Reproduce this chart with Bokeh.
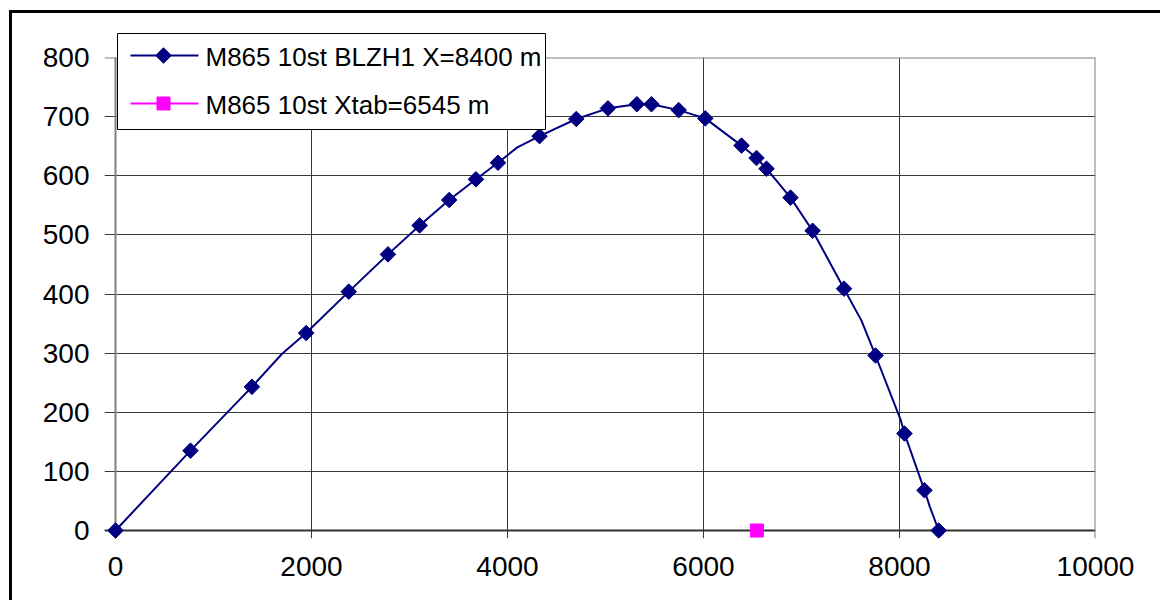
import numpy as np
from bokeh.plotting import figure
from bokeh.models import Range1d, FixedTicker, Span
from bokeh.core.properties import value
from bokeh.embed import file_html
from bokeh.resources import INLINE

# ---- data ----
traj_x = [0, 765, 1392, 1945, 2380, 2780, 3103, 3405, 3678, 3903, 4327, 4702,
          5025, 5320, 5469, 5747, 6018, 6388, 6541, 6643, 6888, 7113, 7434,
          7755, 8051, 8255, 8400]
traj_y = [0, 135, 243, 334, 404, 467, 516, 559, 594, 622, 667, 696,
          714, 721, 721, 711, 697, 651, 630, 612, 563, 507, 409,
          296, 164, 68, 0]
# extra points of the drawn line (line only, no marker)
kink_x = [1700, 4100, 7612, 8010, 8310]
kink_y = [299, 648, 355, 188, 40]

tab_x = [6545]
tab_y = [0]

series_labels = ["M865 10st BLZH1 X=8400 m", "M865 10st Xtab=6545 m"]
x_ticks = [0, 2000, 4000, 6000, 8000, 10000]
y_ticks = [0, 100, 200, 300, 400, 500, 600, 700, 800]

# line path: markers plus extra points, ordered by x
pts = sorted(zip(traj_x + kink_x, traj_y + kink_y))
line_x = [a for a, b in pts]
line_y = [b for a, b in pts]

NAVY = "#000080"
MAG = "#FF00FF"
FONT = "Liberation Sans"
DIAMOND = dict(marker="square", angle=np.pi / 4, size=11)
SQUARE = dict(marker="square", size=13)

# ---- layout (pixels) ----
PLOT_W, PLOT_H = 980, 473        # size of the 0..10000 x 0..800 area
TICK_X, TICK_Y = 11, 8           # tick lengths outside the axes
x0, x1 = x_ticks[0], x_ticks[-1]
y0, y1 = y_ticks[0], y_ticks[-1]
x_start = x0 - TICK_X * (x1 - x0) / PLOT_W
y_start = y0 - TICK_Y * (y1 - y0) / PLOT_H

p = figure(frame_width=PLOT_W + TICK_X, frame_height=PLOT_H + TICK_Y,
           x_range=Range1d(x_start, x1), y_range=Range1d(y_start, y1),
           output_backend="svg", toolbar_location=None,
           min_border_left=92, min_border_right=65,
           min_border_top=44, min_border_bottom=62,
           background_fill_color="white", border_fill_color="white")
p.styles = {"border-top": "3px solid black", "border-left": "3px solid black",
            "margin-left": "9px", "margin-top": "10px"}
p.outline_line_color = None

for ax, ticks in ((p.xaxis, x_ticks), (p.yaxis, y_ticks)):
    ax.ticker = FixedTicker(ticks=ticks)
    ax.axis_line_color = None
    ax.major_tick_line_color = None
    ax.minor_tick_line_color = None
    ax.major_tick_in = 0
    ax.major_tick_out = 0
    ax.major_label_text_font = FONT
    ax.major_label_text_font_size = "28px"
    ax.major_label_text_color = "black"
p.xaxis.major_label_standoff = 18
p.yaxis.major_label_standoff = 15

# grid lines run on past the axes: that part forms the tick marks
p.xgrid.ticker = FixedTicker(ticks=x_ticks)
p.ygrid.ticker = FixedTicker(ticks=y_ticks)
for g in (p.xgrid, p.ygrid):
    g.grid_line_color = "#3a3a3a"
    g.grid_line_width = 1

# axis lines and plot-area border
p.add_layout(Span(location=x0, dimension="height", line_color="#808080",
                  line_width=2, level="underlay"))
p.add_layout(Span(location=y0, dimension="width", line_color="#303030",
                  line_width=2, level="underlay"))
p.add_layout(Span(location=x1, dimension="height", line_color="#808080",
                  line_width=2, level="underlay"))
p.add_layout(Span(location=y1, dimension="width", line_color="#808080",
                  line_width=2, level="underlay"))

p.line(line_x, line_y, line_color=NAVY, line_width=2)
p.scatter(traj_x, traj_y, fill_color=NAVY, line_color=NAVY, **DIAMOND)
p.scatter(tab_x, tab_y, fill_color=MAG, line_color=MAG, **SQUARE)

# ---- legend: a small box laid over the chart (pixel coordinates) ----
LEG_W, LEG_H = 429, 97
ROW_Y = [22, 70]
SAMPLE_X0, SAMPLE_X1, MARK_X, TEXT_X = 13, 81, 46, 88

lg = figure(width=LEG_W, height=LEG_H, output_backend="svg", toolbar_location=None,
            x_axis_location=None, y_axis_location=None, min_border=0,
            x_range=Range1d(0, LEG_W), y_range=Range1d(LEG_H, 0),
            background_fill_color="white", border_fill_color="white")
lg.grid.visible = False
lg.outline_line_color = "black"
lg.outline_line_width = 1
lg.styles = {"position": "absolute", "left": "117px", "top": "33px", "z-index": "10"}

for row, (col, mk) in enumerate(((NAVY, DIAMOND), (MAG, SQUARE))):
    yy = ROW_Y[row]
    lg.line([SAMPLE_X0, SAMPLE_X1], [yy, yy], line_color=col, line_width=2)
    lg.scatter([MARK_X], [yy], fill_color=col, line_color=col, **mk)
    lg.text([TEXT_X], [yy + 1], text=[series_labels[row]], text_baseline="middle",
            text_align="left", text_font=value(FONT), text_font_size="26px",
            text_color="black")

open("out.html", "w").write(file_html([p, lg], INLINE))
